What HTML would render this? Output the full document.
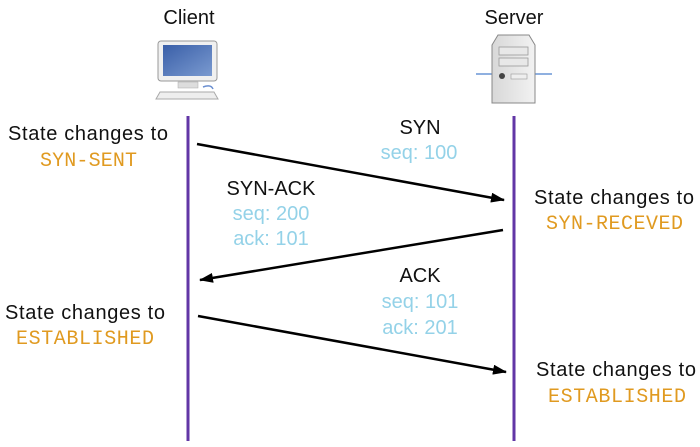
<!DOCTYPE html>
<html><head><meta charset="utf-8"><style>
body{margin:0;background:#fff;}
svg{display:block}
.t{font-family:"Liberation Sans",sans-serif;font-size:20px;fill:#111;}
.b{font-family:"Liberation Sans",sans-serif;font-size:20px;fill:#94d2e8;}
.o{font-family:"Liberation Mono",monospace;font-size:20px;fill:#e09a20;}
</style></head><body>
<svg width="700" height="447" viewBox="0 0 700 447">
<defs><marker id="a" markerWidth="14" markerHeight="10" refX="13" refY="5" orient="auto" markerUnits="userSpaceOnUse"><path d="M0,0 L14,5 L0,10 z" fill="#000"/></marker>
<linearGradient id="sc" x1="0" y1="0" x2="1" y2="1"><stop offset="0" stop-color="#3a5fa8"/><stop offset="1" stop-color="#7a9ad0"/></linearGradient>
<linearGradient id="sv" x1="0" y1="0" x2="1" y2="0"><stop offset="0" stop-color="#d8d8d8"/><stop offset="1" stop-color="#f2f2f2"/></linearGradient></defs>
<text class="t" x="189" y="24" text-anchor="middle">Client</text>
<text class="t" x="514" y="24" text-anchor="middle">Server</text>
<rect x="158" y="41" width="59" height="40" rx="3" fill="#f0f0f0" stroke="#999"/>
<rect x="163" y="45" width="49" height="31" fill="url(#sc)"/>
<rect x="178" y="82" width="20" height="6" fill="#ddd" stroke="#aaa" stroke-width="0.5"/>
<path d="M160 92 L214 92 L218 99 L156 99 z" fill="#eee" stroke="#aaa"/>
<path d="M203 87 q8 -3 10 2" stroke="#6b8fd0" fill="none" stroke-width="1.5"/>
<line x1="476" y1="74" x2="552" y2="74" stroke="#8fb0e0" stroke-width="2"/>
<path d="M498 35 L529 35 L535 45 L535 103 L492 103 L492 45 z" fill="url(#sv)" stroke="#888"/>
<rect x="499" y="47" width="29" height="8" fill="#e8e8e8" stroke="#999" stroke-width="0.8"/>
<rect x="499" y="58" width="29" height="8" fill="#e8e8e8" stroke="#999" stroke-width="0.8"/>
<circle cx="502" cy="76" r="3" fill="#444"/>
<rect x="511" y="74" width="16" height="5" fill="#eee" stroke="#999" stroke-width="0.6"/>
<line x1="188" y1="116" x2="188" y2="441" stroke="#6236a6" stroke-width="3"/>
<line x1="514" y1="116" x2="514" y2="441" stroke="#6236a6" stroke-width="3"/>
<line x1="197" y1="144" x2="504" y2="200" stroke="#000" stroke-width="2.5" marker-end="url(#a)"/>
<line x1="503" y1="230" x2="200" y2="280" stroke="#000" stroke-width="2.5" marker-end="url(#a)"/>
<line x1="198" y1="316" x2="506" y2="372" stroke="#000" stroke-width="2.5" marker-end="url(#a)"/>
<text class="t" x="8" y="140" textLength="160">State changes to</text>
<text class="o" x="40" y="166" textLength="97">SYN-SENT</text>
<text class="t" x="420" y="134" text-anchor="middle">SYN</text>
<text class="b" x="419" y="159" text-anchor="middle">seq: 100</text>
<text class="t" x="271" y="195" text-anchor="middle">SYN-ACK</text>
<text class="b" x="271" y="220" text-anchor="middle">seq: 200</text>
<text class="b" x="271" y="245" text-anchor="middle">ack: 101</text>
<text class="t" x="534" y="204" textLength="160">State changes to</text>
<text class="o" x="546" y="229" textLength="137">SYN-RECEVED</text>
<text class="t" x="420" y="282" text-anchor="middle">ACK</text>
<text class="b" x="420" y="308" text-anchor="middle">seq: 101</text>
<text class="b" x="420" y="334" text-anchor="middle">ack: 201</text>
<text class="t" x="5" y="319" textLength="160">State changes to</text>
<text class="o" x="16" y="344" textLength="138">ESTABLISHED</text>
<text class="t" x="536" y="376" textLength="160">State changes to</text>
<text class="o" x="548" y="402" textLength="138">ESTABLISHED</text>
</svg>
</body></html>
